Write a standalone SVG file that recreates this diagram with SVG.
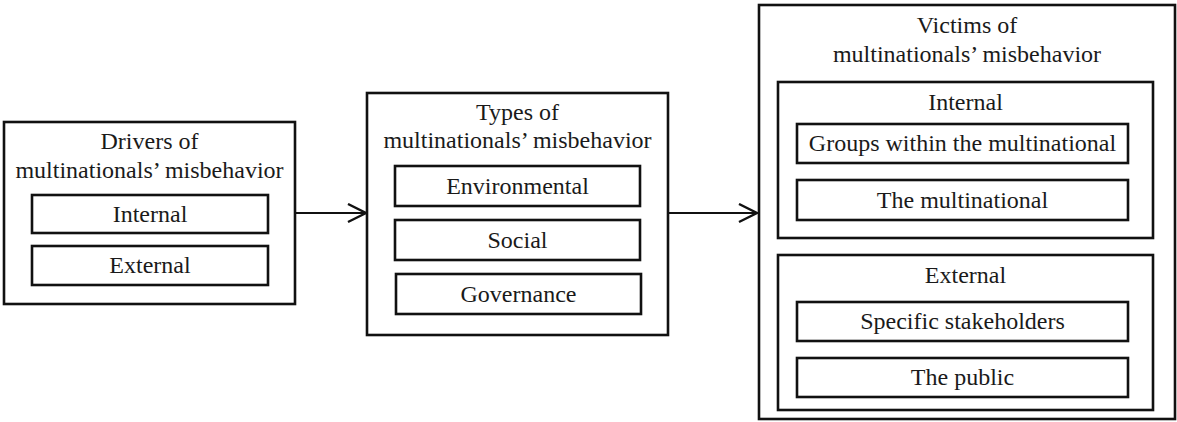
<svg xmlns="http://www.w3.org/2000/svg" width="1177" height="422" viewBox="0 0 1177 422">
<style>
.box{fill:#fff;stroke:#111;stroke-width:2.6}
.t{font-family:"Liberation Serif","Times New Roman",serif;font-size:24px;fill:#1a1a1a;text-anchor:middle}
.conn{stroke:#111;stroke-width:2.2;fill:none}
</style>
<defs>
<marker id="arr" markerUnits="userSpaceOnUse" markerWidth="24" markerHeight="24" refX="19" refY="10" orient="auto">
<path d="M1,1 L19,10 L1,19" fill="none" stroke="#111" stroke-width="2.4"/>
</marker>
</defs>
<rect width="1177" height="422" fill="#fff"/>
<g id="connectors">
<line class="conn" x1="296" y1="213" x2="366" y2="213" marker-end="url(#arr)"/>
<line class="conn" x1="669" y1="213" x2="757" y2="213" marker-end="url(#arr)"/>
</g>
<g id="drivers">
<rect class="box" x="4" y="122" width="291" height="182"/>
<text class="t" x="149.5" y="149">Drivers of</text>
<text class="t" x="149.5" y="178">multinationals’ misbehavior</text>
<g id="drivers-internal">
<rect class="box" x="32" y="195" width="236" height="38"/>
<text class="t" x="150" y="222">Internal</text>
</g>
<g id="drivers-external">
<rect class="box" x="32" y="246" width="236" height="39"/>
<text class="t" x="150" y="273">External</text>
</g>
</g>
<g id="types">
<rect class="box" x="367" y="93" width="301" height="242"/>
<text class="t" x="517.5" y="120">Types of</text>
<text class="t" x="517.5" y="148">multinationals’ misbehavior</text>
<g id="types-env">
<rect class="box" x="395" y="166" width="245" height="40"/>
<text class="t" x="517.5" y="194">Environmental</text>
</g>
<g id="types-social">
<rect class="box" x="395" y="220" width="245" height="40"/>
<text class="t" x="517.5" y="248">Social</text>
</g>
<g id="types-gov">
<rect class="box" x="396" y="274" width="245" height="40"/>
<text class="t" x="518.5" y="302">Governance</text>
</g>
</g>
<g id="victims">
<rect class="box" x="759" y="5" width="416" height="414"/>
<text class="t" x="967" y="33">Victims of</text>
<text class="t" x="967" y="62">multinationals’ misbehavior</text>
<g id="victims-internal">
<rect class="box" x="778" y="82" width="375" height="156"/>
<text class="t" x="965.5" y="110">Internal</text>
<g id="victims-groups">
<rect class="box" x="797" y="124" width="331" height="39"/>
<text class="t" x="962.5" y="151">Groups within the multinational</text>
</g>
<g id="victims-mnc">
<rect class="box" x="797" y="180" width="331" height="40"/>
<text class="t" x="962.5" y="208">The multinational</text>
</g>
</g>
<g id="victims-external">
<rect class="box" x="778" y="255" width="375" height="155"/>
<text class="t" x="965.5" y="283">External</text>
<g id="victims-stakeholders">
<rect class="box" x="797" y="302" width="331" height="39"/>
<text class="t" x="962.5" y="329">Specific stakeholders</text>
</g>
<g id="victims-public">
<rect class="box" x="797" y="358" width="331" height="39"/>
<text class="t" x="962.5" y="385">The public</text>
</g>
</g>
</g>
</svg>
